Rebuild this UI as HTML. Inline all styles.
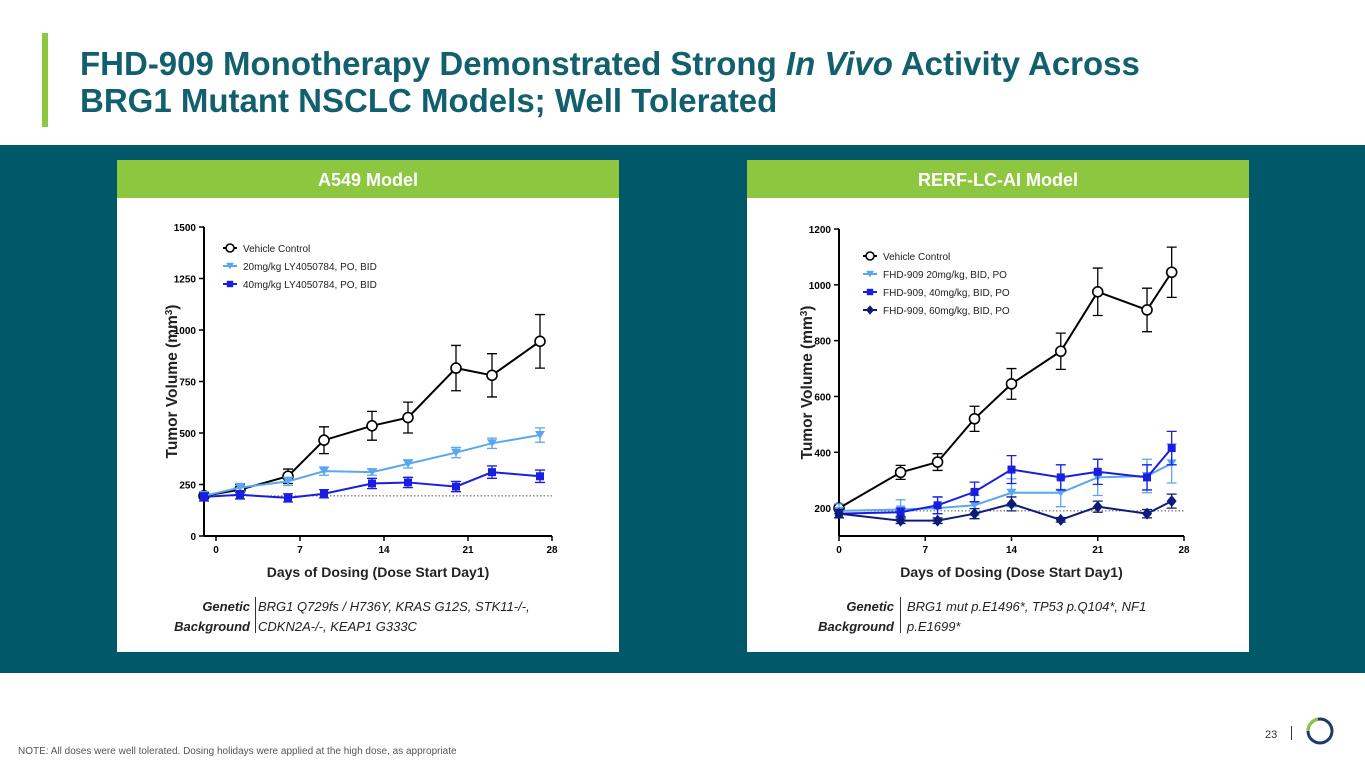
<!DOCTYPE html>
<html><head><meta charset="utf-8">
<style>
body{margin:0;width:1365px;height:768px;position:relative;background:#fff;font-family:"Liberation Sans",sans-serif;overflow:hidden}
.abs{position:absolute}
.title{left:80px;top:45px;font-size:33px;font-weight:bold;color:#12606e;line-height:37px}
.band{left:0;top:145px;width:1365px;height:528px;background:#015868}
.panel{background:#fff;top:162px;height:490px;width:502px}
.hdr{top:160px;height:38px;width:502px;background:#8dc63f;color:#fff;font-weight:bold;font-size:18px;text-align:center;line-height:40px}
.gen{font-size:13px;font-style:italic;color:#222;line-height:20px}
</style></head><body>
<div class="abs" style="left:42px;top:33px;width:6px;height:94px;background:#8dc63f"></div>
<div class="abs title">FHD-909 Monotherapy Demonstrated Strong <i>In Vivo</i> Activity Across<br>BRG1 Mutant NSCLC Models; Well Tolerated</div>
<div class="abs band"></div>
<div class="abs panel" style="left:117px"></div>
<div class="abs panel" style="left:747px"></div>
<div class="abs hdr" style="left:117px">A549 Model</div>
<div class="abs hdr" style="left:747px">RERF-LC-AI Model</div>
<svg class="abs" style="left:0;top:0" width="1365" height="768" id="svg"></svg>
<div class="abs gen" style="left:150px;top:597px;width:100px;text-align:right;font-weight:bold">Genetic<br>Background</div>
<div class="abs" style="left:255px;top:597px;width:1px;height:36px;background:#333"></div>
<div class="abs gen" style="left:258px;top:597px">BRG1 Q729fs / H736Y, KRAS G12S, STK11-/-,<br>CDKN2A-/-, KEAP1 G333C</div>
<div class="abs gen" style="left:794px;top:597px;width:100px;text-align:right;font-weight:bold">Genetic<br>Background</div>
<div class="abs" style="left:900px;top:597px;width:1px;height:36px;background:#333"></div>
<div class="abs gen" style="left:907px;top:597px">BRG1 mut p.E1496*, TP53 p.Q104*, NF1<br>p.E1699*</div>
<div class="abs" style="left:18px;top:746px;font-size:10px;color:#555">NOTE: All doses were well tolerated. Dosing holidays were applied at the high dose, as appropriate</div>
<div class="abs" style="left:1265px;top:729px;font-size:11px;color:#333">23</div>
<div class="abs" style="left:1291px;top:726px;width:1px;height:14px;background:#333"></div>
<svg class="abs" style="left:1305px;top:716px" width="30" height="30">
<circle cx="15" cy="15" r="12" fill="none" stroke="#1c3a6e" stroke-width="3"/>
<path d="M3 15 A12 12 0 0 1 13 3" fill="none" stroke="#8dc63f" stroke-width="3"/></svg>
<script>
// Chart 1 data
const days1=[-1,2,6,9,13,16,20,23,27];
const veh1=[195,225,290,465,535,575,815,780,945];
const veh1Err=[20,25,35,65,70,75,110,105,130];
const d20_1=[195,235,265,315,310,350,405,450,490];
const d20_1Err=[20,20,20,20,15,20,25,25,35];
const d40_1=[190,200,185,205,255,260,240,310,290];
const d40_1Err=[20,20,20,20,25,25,25,30,30];
const yTicks1=[0,250,500,750,1000,1250,1500];
const xTicks=[0,7,14,21,28];
// Chart 2 data
const days2=[0,5,8,11,14,18,21,25,27];
const veh2=[200,328,365,520,645,762,975,910,1045];
const veh2Err=[10,25,30,45,55,65,85,78,90];
const d20_2=[190,195,200,210,255,255,310,315,360];
const d20_2Err=[25,35,40,35,50,50,65,60,70];
const d40_2=[180,185,210,258,338,310,330,310,415];
const d40_2Err=[15,15,30,35,50,45,45,45,60];
const d60_2=[180,155,155,180,215,158,205,180,225];
const d60_2Err=[15,10,10,18,25,8,20,15,25];
const yTicks2=[200,400,600,800,1000,1200];

const svg=document.getElementById('svg');
const NS='http://www.w3.org/2000/svg';
function mk(t,a,txt){const e=document.createElementNS(NS,t);for(const k in a)e.setAttribute(k,a[k]);if(txt!==undefined)e.textContent=txt;svg.appendChild(e);return e;}

function chart(cfg){
  const X=d=>cfg.x0+(d-cfg.dmin)*(cfg.x1-cfg.x0)/(cfg.dmax-cfg.dmin);
  const Y=v=>cfg.yb-(v-cfg.vmin)*(cfg.yb-cfg.yt)/(cfg.vmax-cfg.vmin);
  let a=mk('line',{x1:cfg.x0,y1:cfg.yt,x2:cfg.x0,y2:cfg.yb,stroke:'#000','stroke-width':2});
  
  a=mk('line',{x1:cfg.x0,y1:cfg.yb,x2:cfg.x1,y2:cfg.yb,stroke:'#000','stroke-width':2});
  
  cfg.yTicks.forEach(v=>{mk('line',{x1:cfg.x0-5,y1:Y(v),x2:cfg.x0,y2:Y(v),stroke:'#000','stroke-width':1.5});
    const t=mk('text',{x:cfg.x0-8,y:Y(v)+4,'text-anchor':'end','font-size':10,'font-weight':'bold'},v);
    });
  xTicks.forEach(d=>{mk('line',{x1:X(d),y1:cfg.yb,x2:X(d),y2:cfg.yb+5,stroke:'#000','stroke-width':1.5});
    const t=mk('text',{x:X(d),y:cfg.yb+17,'text-anchor':'middle','font-size':10,'font-weight':'bold'},d);
    });
  let t=mk('text',{x:(cfg.x0+cfg.x1)/2,y:cfg.yb+41,'text-anchor':'middle','font-size':14,'font-weight':'bold',fill:'#222'},'Days of Dosing (Dose Start Day1)');
  
  const cy=(cfg.yt+cfg.yb)/2, ax=cfg.x0-27;
  t=mk('text',{x:ax,y:cy,'text-anchor':'middle','font-size':15.5,'font-weight':'bold',fill:'#222',transform:`rotate(-90 ${ax} ${cy})`});
  t.innerHTML='Tumor Volume (mm<tspan dy="-5" font-size="10">3</tspan><tspan dy="5">)</tspan>';
  
  const b=mk('line',{x1:cfg.x0,y1:Y(cfg.base),x2:cfg.x1,y2:Y(cfg.base),stroke:'#555','stroke-width':1,'stroke-dasharray':'1.5,2'});
  
  cfg.series.forEach((s,si)=>{
    const pts=s.v.map((v,i)=>X(cfg.days[i])+','+Y(v)).join(' ');
    const l=mk('polyline',{points:pts,fill:'none',stroke:s.c,'stroke-width':2});
    
    s.v.forEach((v,i)=>{const x=X(cfg.days[i]);
      mk('path',{d:`M${x} ${Y(v+s.e[i])}V${Y(v-s.e[i])}M${x-5} ${Y(v+s.e[i])}h10M${x-5} ${Y(v-s.e[i])}h10`,stroke:s.c,'stroke-width':1.3,fill:'none'});
      drawMarker(s.m,x,Y(v),s.c,cfg.id+'-'+s.n+'-point',1);});
    const ly=cfg.legY+si*18, lx=cfg.legX;
    mk('line',{x1:lx-7,y1:ly,x2:lx+7,y2:ly,stroke:s.c,'stroke-width':2});
    drawMarker(s.m,lx,ly,s.c,cfg.id+'-legend-marker',0.8);
    const lt=mk('text',{x:lx+13,y:ly+4,'font-size':10,fill:'#222'},s.label);
    
  });
}
function drawMarker(m,x,y,c,name,k){let e;
  if(m==='o')e=mk('circle',{cx:x,cy:y,r:5*k,fill:'#fff',stroke:c,'stroke-width':1.6});
  else if(m==='v')e=mk('path',{d:`M${x-5*k} ${y-4*k}h${10*k}l${-5*k} ${8*k}z`,fill:c});
  else if(m==='s')e=mk('rect',{x:x-4*k,y:y-4*k,width:8*k,height:8*k,fill:c});
  else e=mk('path',{d:`M${x} ${y-6*k}l${5*k} ${6*k}l${-5*k} ${6*k}l${-5*k} ${-6*k}z`,fill:c});
  }

chart({id:'a549',x0:204,x1:552,dmin:-1,dmax:28,yt:227,yb:536,vmin:0,vmax:1500,yTicks:yTicks1,days:days1,base:195,legX:230,legY:248,
  series:[{n:'vehicle',v:veh1,e:veh1Err,c:'#000',m:'o',label:'Vehicle Control'},
  {n:'20mg',v:d20_1,e:d20_1Err,c:'#5aa7ef',m:'v',label:'20mg/kg LY4050784, PO, BID'},
  {n:'40mg',v:d40_1,e:d40_1Err,c:'#1a1ee0',m:'s',label:'40mg/kg LY4050784, PO, BID'}]});
chart({id:'rerf',x0:839,x1:1184,dmin:0,dmax:28,yt:229,yb:536,vmin:100,vmax:1200,yTicks:yTicks2,days:days2,base:190,legX:870,legY:256,
  series:[{n:'vehicle',v:veh2,e:veh2Err,c:'#000',m:'o',label:'Vehicle Control'},
  {n:'20mg',v:d20_2,e:d20_2Err,c:'#5aa7ef',m:'v',label:'FHD-909 20mg/kg, BID, PO'},
  {n:'40mg',v:d40_2,e:d40_2Err,c:'#1a1ee0',m:'s',label:'FHD-909, 40mg/kg, BID, PO'},
  {n:'60mg',v:d60_2,e:d60_2Err,c:'#0e1c78',m:'d',label:'FHD-909, 60mg/kg, BID, PO'}]});
</script>
</body></html>
